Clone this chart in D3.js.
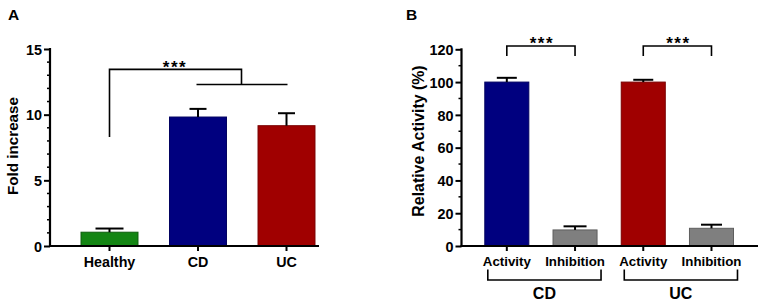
<!DOCTYPE html>
<html><head><meta charset="utf-8">
<script src="https://cdn.jsdelivr.net/npm/d3@7"></script>
<style>
body{margin:0;background:#fff;}
svg text{font-family:"Liberation Sans",Arial,sans-serif;font-weight:bold;fill:#000;}
</style></head>
<body><svg id="c" width="765" height="304"></svg>
<script>
// Panel A data
const catsA = ["Healthy", "CD", "UC"];
const valsA = [1.05, 9.82, 9.16];
const errA = [0.28, 0.62, 0.95];
const ticksA = [0, 5, 10, 15];
// Panel B data
const catsB = ["CD-Activity", "CD-Inhibition", "UC-Activity", "UC-Inhibition"];
const labelsB = ["Activity", "Inhibition", "Activity", "Inhibition"];
const valsB = [100, 9.8, 100, 10.8];
const errB = [2.6, 2.2, 1.4, 2.2];
const ticksB = [0, 20, 40, 60, 80, 100, 120];
const groupsB = [{name:"CD", members:["CD-Activity","CD-Inhibition"]},{name:"UC", members:["UC-Activity","UC-Inhibition"]}];

const colorsA = ["#138513", "#00007f", "#a00000"];
const strokesA = ["#0c5e0c", "#000060", "#7a0000"];
const colorsB = ["#00007f", "#7f7f7f", "#a00000", "#7f7f7f"];
const strokesB = ["#000060", "#5e5e5e", "#7a0000", "#5e5e5e"];

const svg = d3.select("#c");

function panel(opts){
  const g = svg.append("g");
  const y = d3.scaleLinear().domain(opts.ydom).range([opts.y0, opts.y1]);
  const x = d3.scaleBand().domain(opts.cats).range(opts.xr).paddingInner(opts.pad).paddingOuter(opts.pad/2);
  // bars
  g.selectAll("rect.bar").data(opts.cats).join("rect")
    .attr("x", d => x(d)+0.5).attr("width", x.bandwidth()-1)
    .attr("y", (d,i) => y(opts.vals[i])).attr("height", (d,i) => y(0)-y(opts.vals[i]))
    .attr("fill", (d,i) => opts.colors[i]).attr("stroke", (d,i) => opts.strokes[i]).attr("stroke-width", 1);
  // error bars
  opts.cats.forEach((d,i) => {
    const cx = x(d) + x.bandwidth()/2;
    const top = y(opts.vals[i] + opts.errs[i]);
    const cw = opts.capW[i];
    g.append("line").attr("x1", cx).attr("x2", cx).attr("y1", y(opts.vals[i])).attr("y2", top).attr("stroke","#000").attr("stroke-width",2);
    g.append("line").attr("x1", cx-cw/2).attr("x2", cx+cw/2).attr("y1", top).attr("y2", top).attr("stroke","#000").attr("stroke-width",2);
  });
  // y axis
  const yAxis = d3.axisLeft(y).tickValues(opts.ticks).tickSize(6).tickPadding(2);
  const ya = g.append("g").attr("transform", `translate(${opts.xAxis},0)`).call(yAxis);
  ya.select(".domain").remove();
  ya.selectAll(".tick line").attr("stroke","#000").attr("stroke-width",2);
  ya.selectAll(".tick text").style("font-size","14.4px").attr("dy","0.36em");
  // minor ticks
  g.selectAll("line.minor").data(opts.minor).join("line")
    .attr("x1", opts.xAxis-3).attr("x2", opts.xAxis).attr("y1", d=>y(d)).attr("y2", d=>y(d))
    .attr("stroke","#000").attr("stroke-width",1.5);
  g.append("line").attr("x1", opts.xAxis).attr("x2", opts.xAxis).attr("y1", y(0)+1).attr("y2", y(opts.ydom[1])-1).attr("stroke","#000").attr("stroke-width",2.2);
  // x axis
  const xa = g.append("g").attr("transform", `translate(0,${y(0)})`).call(d3.axisBottom(x).tickSize(5).tickPadding(6).tickFormat((d,i)=>opts.labels[i]));
  xa.select(".domain").remove();
  xa.selectAll(".tick line").attr("stroke","#000").attr("stroke-width",2);
  xa.selectAll(".tick text").style("font-size", opts.xFont);
  g.append("line").attr("x1", opts.xAxis-1).attr("x2", opts.xEnd).attr("y1", y(0)).attr("y2", y(0)).attr("stroke","#000").attr("stroke-width",2.2);
  // y label
  g.append("text").attr("transform", `translate(${opts.ylabX},${opts.ylabY}) rotate(-90)`)
    .attr("text-anchor","middle").style("font-size", opts.ylabFont).text(opts.ylabel);
  // panel letter
  g.append("text").attr("x", opts.letterX).attr("y", 20).style("font-size","15.5px").text(opts.letter);
  return {x, y, g};
}

const A = panel({cats:catsA, labels:catsA, vals:valsA, errs:errA, colors:colorsA, strokes:strokesA,
  ydom:[0,15], y0:246, y1:49, xr:[65.25,330.75], pad:0.345, ticks:ticksA, minor:d3.range(1,15).filter(v=>v%5),
  xAxis:50, xEnd:319, ylabel:"Fold increase", ylabX:18, ylabY:146, ylabFont:"15.2px", xFont:"14.3px",
  letter:"A", letterX:8, capW:[28,17,17]});

const B = panel({cats:catsB, labels:labelsB, vals:valsB, errs:errB, colors:colorsB, strokes:strokesB,
  ydom:[0,120], y0:246, y1:49.3, xr:[472.7,745.6], pad:0.34, ticks:ticksB, minor:d3.range(10,120,20),
  xAxis:461.5, xEnd:758, ylabel:"Relative Activity (%)", ylabX:424, ylabY:141, ylabFont:"15.9px", xFont:"13.3px",
  letter:"B", letterX:406, capW:[20,23,20,21]});

function stars(g, x, y){
  g.append("text").attr("x", x).attr("y", y).attr("text-anchor","middle")
    .style("font-size","17px").style("letter-spacing","1.5px").text("***");
}

// Panel A significance bracket
{
  const {x, y, g} = A;
  const c = d => x(d) + x.bandwidth()/2;
  const yTop = y(13.45), yLow = y(12.3), yStart = y(8.3);
  const sx = c("Healthy");
  const jx = 241.5;
  g.append("path").attr("d", `M${sx},${yStart}V${yTop}H${jx}V${yLow}`).attr("fill","none").attr("stroke","#000").attr("stroke-width",1.6);
  g.append("line").attr("x1", c("CD")-1.5).attr("x2", c("UC")+1).attr("y1", yLow).attr("y2", yLow).attr("stroke","#000").attr("stroke-width",1.6);
  stars(g, 175, 72.5);
}
// Panel B significance + group brackets
{
  const {x, y, g} = B;
  const c = d => x(d) + x.bandwidth()/2;
  [["CD-Activity","CD-Inhibition"],["UC-Activity","UC-Inhibition"]].forEach(([a,b]) => {
    const yT = 46, yL = 56;
    g.append("path").attr("d", `M${c(a)},${yL}V${yT}H${c(b)}V${yL}`).attr("fill","none").attr("stroke","#000").attr("stroke-width",1.6);
    stars(g, (c(a)+c(b))/2 + 1, 49);
  });
  groupsB.forEach(gr => {
    const x1b = c(gr.members[0]) - 19, x2b = c(gr.members[1]) + 26;
    g.append("path").attr("d", `M${x1b},269.5V280H${x2b}V269.5`).attr("fill","none").attr("stroke","#000").attr("stroke-width",1.6);
    g.append("text").attr("x", (x1b+x2b)/2).attr("y", 299).attr("text-anchor","middle").style("font-size","16px").text(gr.name);
  });
}
</script></body></html>
